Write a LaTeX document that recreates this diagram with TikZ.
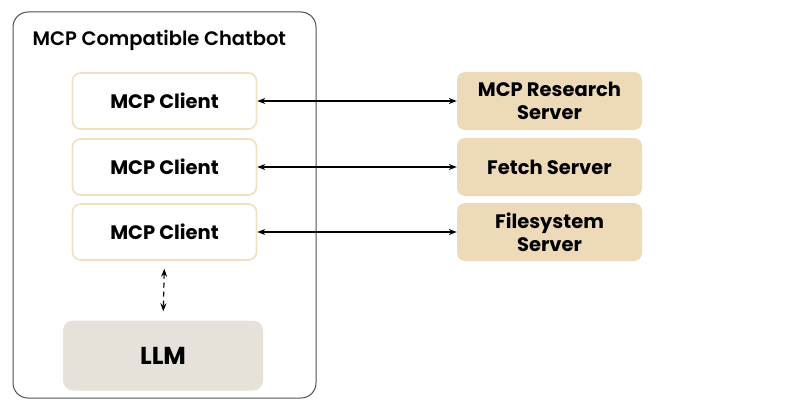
\documentclass[tikz,border=0pt]{standalone}
\usepackage{fontspec}
\setmainfont{Poppins}[BoldFont=Poppins Bold]
\newfontfamily\titlefont{Poppins SemiBold}
\usetikzlibrary{arrows.meta}
\definecolor{clientline}{HTML}{F0DFC2}
\definecolor{serverfill}{HTML}{EDDAB9}
\definecolor{llmfill}{HTML}{E6E2DA}
\definecolor{outerline}{HTML}{505050}

\begin{document}
\begin{tikzpicture}[x=1pt, y=-1pt,
    client/.style={draw=clientline, line width=1.6pt, fill=white, rounded corners=8pt,
      minimum width=184pt, minimum height=56pt, font=\fontsize{19.5}{22}\selectfont\bfseries},
    server/.style={fill=serverfill, rounded corners=8pt, minimum width=185pt,
      minimum height=58pt, align=center, font=\fontsize{19.5}{23}\selectfont\bfseries},
    link/.style={line width=1.2pt, {Stealth[length=8pt,width=6pt]}-{Stealth[length=8pt,width=6pt]}}]
  \useasboundingbox (0,0) rectangle (799,401);
  \draw[outerline, line width=1pt, rounded corners=15pt] (13,12) rectangle (316,398);
  \node[anchor=west, font=\titlefont\fontsize{19.5}{22}\selectfont] (title) at (29,40) {MCP Compatible Chatbot};

  \node[client] (c1) at (164.5,101) {MCP Client};
  \node[client] (c2) at (164.5,167) {MCP Client};
  \node[client] (c3) at (164.5,232) {MCP Client};

  \node[server] (s1) at (549.5,101) {MCP Research\\Server};
  \node[server] (s2) at (549.5,167) {Fetch Server};
  \node[server] (s3) at (549.5,232) {Filesystem\\Server};

  \node[fill=llmfill, rounded corners=10pt, minimum width=200pt, minimum height=70pt,
    font=\fontsize{24.5}{28}\selectfont\bfseries] (llm) at (163,355.5) {LLM};

  \draw[link] (c1.east) -- (s1.west);
  \draw[link] (c2.east) -- (s2.west);
  \draw[link] (c3.east) -- (s3.west);
  \draw[link, dash pattern=on 5pt off 4pt, shorten <=8pt, shorten >=9pt] (c3.south) -- (llm.north);
\end{tikzpicture}
\end{document}
